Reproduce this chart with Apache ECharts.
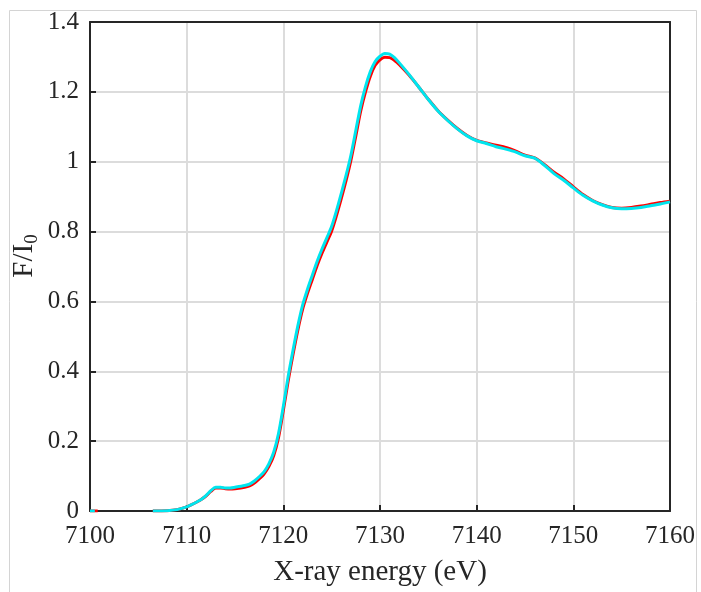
<!DOCTYPE html>
<html>
<head>
<meta charset="utf-8">
<script src="https://cdn.jsdelivr.net/npm/echarts@6/dist/echarts.min.js"></script>
<style>
html,body{margin:0;padding:0;background:#fff;}
#chart{width:701px;height:592px;}
</style>
</head>
<body>
<div id="chart"></div>
<script>
// ---- data ----
var xTicks = [7100, 7110, 7120, 7130, 7140, 7150, 7160];
var yTicks = [0, 0.2, 0.4, 0.6, 0.8, 1.0, 1.2, 1.4];
var xTitle = 'X-ray energy (eV)';

var energy = [7100, 7100.5, 7100.8, 7103,
  7106.5, 7108, 7109, 7110, 7110.5, 7111, 7111.5, 7112, 7112.5, 7113, 7113.5, 7114, 7114.5, 7115,
  7116, 7116.5, 7117, 7117.5, 7118, 7118.5, 7119, 7119.5, 7120, 7120.5, 7121, 7121.5, 7122, 7122.5,
  7123, 7123.5, 7124, 7124.5, 7125, 7125.5, 7126, 7126.5, 7127, 7127.5, 7128, 7128.5, 7129, 7129.5,
  7130, 7130.5, 7131, 7131.5, 7132, 7133, 7134, 7135, 7136, 7137, 7138, 7139, 7140, 7141, 7142,
  7143, 7144, 7145, 7146, 7147, 7148, 7149, 7150, 7151, 7152, 7153, 7154, 7155, 7156, 7157, 7158,
  7159, 7160];

var cyanValues = [0, 0, null, null,
  0, 0.001, 0.004, 0.012, 0.018, 0.025, 0.033, 0.044, 0.058, 0.068, 0.068, 0.066, 0.066, 0.068,
  0.073, 0.077, 0.086, 0.098, 0.112, 0.135, 0.168, 0.222, 0.300, 0.385, 0.460, 0.530, 0.590, 0.635,
  0.675, 0.715, 0.750, 0.782, 0.815, 0.860, 0.910, 0.962, 1.020, 1.090, 1.160, 1.215, 1.258, 1.287,
  1.302, 1.310, 1.308, 1.298, 1.283, 1.250, 1.214, 1.178, 1.145, 1.118, 1.094, 1.074, 1.060, 1.052, 1.043,
  1.036, 1.028, 1.017, 1.010, 0.990, 0.966, 0.947, 0.925, 0.904, 0.888, 0.876, 0.868, 0.865, 0.866, 0.869, 0.874,
  0.879, 0.885];

var redValues = [0, 0, 0, null,
  0, 0.001, 0.004, 0.012, 0.018, 0.025, 0.033, 0.043, 0.056, 0.066, 0.066, 0.064, 0.063, 0.064,
  0.068, 0.072, 0.080, 0.092, 0.106, 0.127, 0.158, 0.210, 0.288, 0.372, 0.448, 0.518, 0.578, 0.623,
  0.663, 0.703, 0.738, 0.770, 0.802, 0.846, 0.895, 0.947, 1.005, 1.074, 1.145, 1.200, 1.245, 1.276,
  1.292, 1.299, 1.298, 1.290, 1.278, 1.248, 1.214, 1.179, 1.146, 1.119, 1.095, 1.075, 1.061, 1.054, 1.047,
  1.041, 1.031, 1.019, 1.011, 0.992, 0.970, 0.951, 0.928, 0.906, 0.889, 0.877, 0.869, 0.867, 0.869, 0.873, 0.878,
  0.883, 0.887];

function pairs(xs, ys) {
  var out = [];
  for (var i = 0; i < xs.length; i++) {
    out.push([xs[i], ys[i] === null ? '-' : ys[i]]);
  }
  return out;
}

var FONT = '"Liberation Serif", "Times New Roman", serif';
var DARK = '#262626';
var GRIDC = '#dcdcdc';

function frameAxis(pos, isX) {
  var a = {
    type: 'value', position: pos,
    axisLine: {show: true, onZero: false, lineStyle: {color: DARK, width: 2}},
    axisTick: {show: false}, axisLabel: {show: false}, splitLine: {show: false}
  };
  if (isX) { a.min = xTicks[0]; a.max = xTicks[xTicks.length - 1]; a.interval = xTicks[1] - xTicks[0]; }
  else { a.min = yTicks[0]; a.max = yTicks[yTicks.length - 1]; a.interval = 0.2; }
  return a;
}

var chart = echarts.init(document.getElementById('chart'), null, {renderer: 'canvas'});
chart.setOption({
  animation: false,
  backgroundColor: '#ffffff',
  grid: {left: 90, top: 22, right: 31, bottom: 80},
  graphic: [
    {
      type: 'rect', silent: true, z: -10,
      shape: {x: 9.5, y: 10.5, width: 687, height: 640},
      style: {fill: 'none', stroke: '#d4d4d4', lineWidth: 1}
    },
    {
      type: 'text', z: 10,
      x: 24, y: 256, rotation: Math.PI / 2,
      style: {
        text: '{a|F/I}{b|0}',
        align: 'center', verticalAlign: 'middle',
        rich: {
          a: {fontFamily: FONT, fontSize: 29, fill: DARK, lineHeight: 34},
          b: {fontFamily: FONT, fontSize: 19, fill: DARK, padding: [16, 0, 0, 0], lineHeight: 34}
        }
      }
    }
  ],
  xAxis: [
    {
      type: 'value', position: 'bottom',
      min: xTicks[0], max: xTicks[xTicks.length - 1], interval: xTicks[1] - xTicks[0],
      name: xTitle, nameLocation: 'middle', nameGap: 47,
      nameTextStyle: {fontFamily: FONT, fontSize: 29, color: DARK},
      axisLine: {show: true, onZero: false, lineStyle: {color: DARK, width: 2}},
      axisTick: {show: true, inside: true, length: 6, lineStyle: {color: DARK, width: 2}},
      axisLabel: {fontFamily: FONT, fontSize: 25, color: DARK, margin: 13,
        formatter: function (v) { return String(v); }},
      splitLine: {show: true, lineStyle: {color: GRIDC, width: 2}}
    },
    frameAxis('top', true)
  ],
  yAxis: [
    {
      type: 'value', position: 'left',
      min: yTicks[0], max: yTicks[yTicks.length - 1], interval: 0.2,
      axisLine: {show: true, onZero: false, lineStyle: {color: DARK, width: 2}},
      axisTick: {show: true, inside: true, length: 6, lineStyle: {color: DARK, width: 2}},
      axisLabel: {fontFamily: FONT, fontSize: 25, color: DARK, margin: 11,
        formatter: function (v) { return String(Math.round(v * 10) / 10); }},
      splitLine: {show: true, lineStyle: {color: GRIDC, width: 2}}
    },
    frameAxis('right', false)
  ],
  series: [
    {
      type: 'line', name: 'red', data: pairs(energy, redValues),
      xAxisIndex: 0, yAxisIndex: 0,
      showSymbol: false, smooth: 0.3, connectNulls: false,
      lineStyle: {color: '#ff0000', width: 3}, z: 3
    },
    {
      type: 'line', name: 'cyan', data: pairs(energy, cyanValues),
      xAxisIndex: 0, yAxisIndex: 0,
      showSymbol: false, smooth: 0.3, connectNulls: false,
      lineStyle: {color: '#00e5ee', width: 3}, z: 4
    }
  ]
});
</script>
</body>
</html>
